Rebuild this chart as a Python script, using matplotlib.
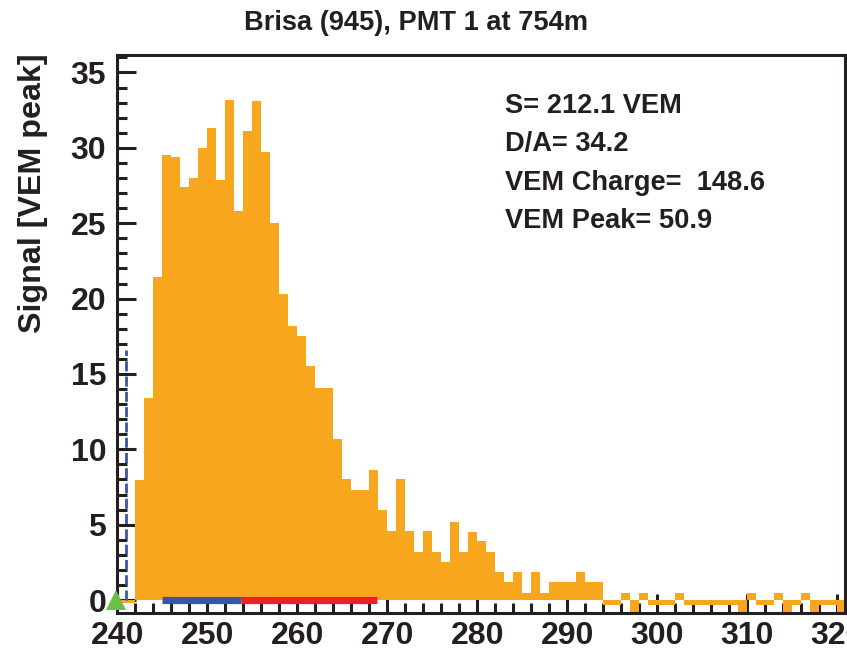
import numpy as np
import matplotlib
matplotlib.use("Agg")
import matplotlib.pyplot as plt
from matplotlib.ticker import MultipleLocator

# Trace: signal per 1-bin slot, starting at bin 240
first_bin = 240
signal = [
    -0.2, -0.2, 7.96, 13.4, 21.45, 29.5, 29.4, 27.4, 28.0, 30.0,      # 240-249
    31.3, 27.9, 33.2, 25.8, 31.1, 33.1, 29.7, 25.0, 20.3, 18.2,       # 250-259
    17.5, 15.5, 14.1, 14.05, 10.7, 8.0, 7.3, 7.3, 8.6, 6.0,           # 260-269
    4.6, 8.0, 4.6, 3.2, 4.6, 3.2, 2.5, 5.2, 3.2, 4.5,                 # 270-279
    3.9, 3.2, 1.84, 1.17, 1.84, 0.48, 1.84, 0.48, 1.17, 1.17,         # 280-289
    1.17, 1.84, 1.17, 1.17, -0.3, -0.3, 0.48, -1.2, 0.48, -0.3,       # 290-299
    -0.3, -0.3, 0.48, -0.3, -0.3, -0.3, -0.3, -0.3, -0.3, -1.2,       # 300-309
    0.48, -0.3, -0.3, 0.48, -1.2, -0.3, 0.48, -1.2, -0.3, -0.3,       # 310-319
    -1.2,                                                             # 320
]
edges = np.arange(first_bin, first_bin + len(signal) + 1)

start_bin = 241.0          # dashed start marker
start_height = 16.6
trigger_bin = 240.0        # green marker
blue_range = (245.0, 253.8)
red_range = (253.8, 268.9)

title = "Brisa (945), PMT 1 at 754m"
ylabel = "Signal [VEM peak]"
stats = ["S= 212.1 VEM", "D/A= 34.2", "VEM Charge=  148.6", "VEM Peak= 50.9"]

W, H = 847, 650
fig = plt.figure(figsize=(W / 100, H / 100), dpi=100)
ax = fig.add_axes([117.3 / W, 1 - 613 / H, (845 - 117.3) / W, (613 - 55) / H])

font = "Liberation Sans"
ink = "#231F20"
orange = "#F8A61E"

ax.stairs(signal, edges, baseline=0, fill=True, color=orange, lw=0, zorder=2)

ax.plot([start_bin, start_bin], [0, start_height], color="#3A55A4", lw=2.0,
        dashes=(3.6, 1.9), zorder=3)
ax.plot(blue_range, [0, 0], color="#3A55A4", lw=5.2, solid_capstyle="butt", zorder=4)
ax.plot(red_range, [0, 0], color="#EE2226", lw=5.2, solid_capstyle="butt", zorder=4)
ax.plot([trigger_bin - 0.2], [0], marker="^", color="#6CBF45", markersize=15,
        clip_on=False, zorder=6, markeredgewidth=0)

ax.set_xlim(240, 320.86)
ax.set_ylim(-0.86, 36.16)

ax.xaxis.set_major_locator(MultipleLocator(10))
ax.xaxis.set_minor_locator(MultipleLocator(2))
ax.yaxis.set_major_locator(MultipleLocator(5))
ax.yaxis.set_minor_locator(MultipleLocator(1))

for s in ax.spines.values():
    s.set_linewidth(2.2)
    s.set_color(ink)
ax.tick_params(which="both", direction="in", top=False, right=False,
               width=2.2, color=ink)
ax.tick_params(which="major", length=14)
ax.tick_params(which="minor", length=7)
ax.tick_params(axis="x", which="major", pad=6)
ax.tick_params(axis="y", which="major", pad=8)
for lab in ax.get_xticklabels() + ax.get_yticklabels():
    lab.set_fontfamily(font)
    lab.set_fontweight("bold")
    lab.set_fontsize(23)
    lab.set_color(ink)

fig.text(416.5 / W, 1 - 30 / H, title, ha="center", va="baseline",
         fontsize=19.6, fontweight="bold", family=font, color=ink)
fig.text(33 / W, 1 - 53 / H, ylabel, rotation=90, ha="center", va="top",
         fontsize=23.2, fontweight="bold", family=font, color=ink)

for txt, yb in zip(stats, [113, 151.5, 190, 228.5]):
    fig.text(505 / W, 1 - yb / H, txt, ha="left", va="baseline",
             fontsize=19.6, fontweight="bold", family=font, color=ink)

fig.savefig("out.png", dpi=100)
